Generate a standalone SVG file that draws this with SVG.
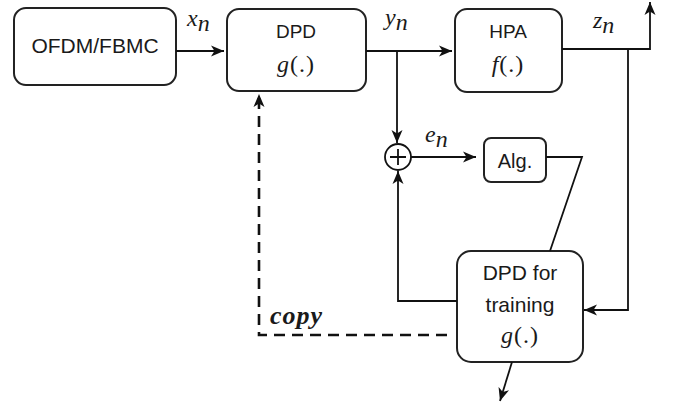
<svg xmlns="http://www.w3.org/2000/svg" width="678" height="404" viewBox="0 0 678 404">
<style>
.box{fill:#fff;stroke:#222;stroke-width:2}
.lbl{font-family:"Liberation Sans",Arial,sans-serif;fill:#1a1a1a;text-anchor:middle}
.math{font-family:"Liberation Serif","Times New Roman",serif;font-style:italic;fill:#1a1a1a}
.ln{fill:none;stroke:#111;stroke-width:1.8}
.dash{fill:none;stroke:#111;stroke-width:2.6;stroke-dasharray:11 7}
</style>
<defs>
<marker id="ah" markerUnits="userSpaceOnUse" markerWidth="14" markerHeight="12" refX="13" refY="6" orient="auto">
<path d="M0,0.5 L13,6 L0,11.5 L3.5,6 z" fill="#111"/>
</marker>
</defs>
<g id="ofdm">
<rect class="box" x="14" y="8" width="162" height="77" rx="12"/>
<text class="lbl" x="95" y="53" font-size="21">OFDM/FBMC</text>
</g>
<g id="dpd">
<rect class="box" x="227" y="9" width="139" height="82" rx="12"/>
<text class="lbl" x="296" y="38" font-size="19">DPD</text>
<text class="math" x="296" y="72" font-size="24" text-anchor="middle" letter-spacing="1">g<tspan font-style="normal">(.)</tspan></text>
</g>
<g id="hpa">
<rect class="box" x="455" y="9" width="107" height="83" rx="12"/>
<text class="lbl" x="508" y="38" font-size="19">HPA</text>
<text class="math" x="508" y="72" font-size="24" text-anchor="middle" letter-spacing="1">f<tspan font-style="normal">(.)</tspan></text>
</g>
<g id="sum">
<circle cx="398" cy="157" r="13" fill="#fff" stroke="#111" stroke-width="1.8"/>
<path class="ln" d="M390,157 H406 M398,149 V165"/>
</g>
<g id="alg">
<rect class="box" x="484" y="138" width="62" height="44" rx="7"/>
<text class="lbl" x="515" y="168" font-size="20">Alg.</text>
</g>
<g id="dpdtrain">
<rect class="box" x="457" y="251" width="126" height="111" rx="14"/>
<text class="lbl" x="520" y="280" font-size="21">DPD for</text>
<text class="lbl" x="520" y="312" font-size="21">training</text>
<text class="math" x="520" y="343" font-size="24" text-anchor="middle" letter-spacing="1">g<tspan font-style="normal">(.)</tspan></text>
</g>
<g id="connectors">
<path class="ln" d="M176,51 H224" marker-end="url(#ah)"/>
<path class="ln" d="M366,51 H452" marker-end="url(#ah)"/>
<path class="ln" d="M397,51 V143" marker-end="url(#ah)"/>
<path class="ln" d="M562,49 H650 V2" marker-end="url(#ah)"/>
<path class="ln" d="M628,49 V310 H584" marker-end="url(#ah)"/>
<path class="ln" d="M411,157 H476" marker-end="url(#ah)"/>
<path class="ln" d="M546,157 H582 L550,251"/>
<path class="ln" d="M457,301 H398 V171" marker-end="url(#ah)"/>
<path class="dash" d="M447,335 H259 V94" marker-end="url(#ah)"/>
<path class="ln" d="M512,362 L500,401" marker-end="url(#ah)"/>
</g>
<g id="labels">
<text class="math" x="187" y="26" font-size="24">x<tspan dy="5">n</tspan></text>
<text class="math" x="385" y="25" font-size="24">y<tspan dy="5">n</tspan></text>
<text class="math" x="593" y="28" font-size="24">z<tspan dy="5">n</tspan></text>
<text class="math" x="425" y="142" font-size="24">e<tspan dy="5">n</tspan></text>
<text class="math" x="270" y="324" font-size="26" font-weight="bold" letter-spacing="1">copy</text>
</g>
</svg>
